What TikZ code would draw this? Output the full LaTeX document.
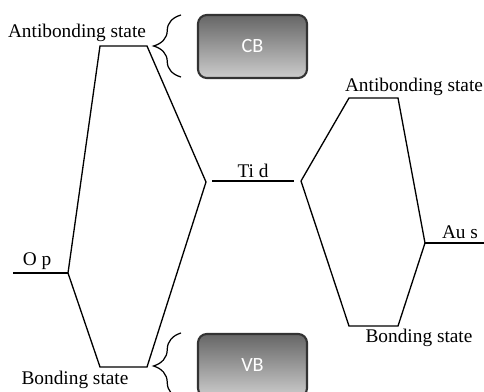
\documentclass[tikz,border=0pt]{standalone}
\usepackage{fontspec}
\setmainfont{Liberation Serif}
\newfontfamily\bandfont{Carlito}
\usetikzlibrary{decorations.pathreplacing}

\begin{document}
\begin{tikzpicture}[x=0.02cm, y=-0.02cm, line width=0.75pt,
    every node/.style={font=\fontsize{11}{13}\selectfont},
    bandbox/.style={draw=black!80, line width=1.2pt, rounded corners=5pt, top color=black!60, bottom color=black!20, minimum width=2.18cm, minimum height=1.26cm, text=white, font=\bandfont\fontsize{11.5}{13}\selectfont},
    bracket/.style={decorate, decoration={brace, amplitude=0.55cm}, line width=0.7pt}]
        \useasboundingbox (0,0) rectangle (484,392);

        % O p and its bonding / antibonding levels
        \coordinate (opend) at (13,273);
        \coordinate (op) at (68,273);
        \coordinate (lab1) at (100,46);
        \coordinate (lab2) at (147,46);
        \coordinate (lb1) at (100,367);
        \coordinate (lb2) at (147,367);
        \coordinate (ltip) at (206,182);

        % Ti d and Au s
        \coordinate (ti1) at (212,181);
        \coordinate (ti2) at (294,181);
        \coordinate (rtip) at (301,181);
        \coordinate (rab1) at (349,98);
        \coordinate (rab2) at (398,98);
        \coordinate (rb1) at (349,326);
        \coordinate (rb2) at (398,326);
        \coordinate (au) at (425,243);
        \coordinate (auend) at (484,243);

        \node(opl) at (37,261){O p};
        \node(tidl) at (253,171){Ti d};
        \node(ausl) at (460,232){Au s};
        \node(labl) at (77,33){Antibonding state};
        \node(lbl) at (75,380){Bonding state};
        \node(rabl) at (414,87){Antibonding state};
        \node(rbl) at (419,338){Bonding state};

        \node[bandbox](cb) at (252.5,46.5){CB};
        \node[bandbox](vb) at (252.5,365.5){VB};

        \draw (opend) -- (op);
        \draw (op) -- (lab1) -- (lab2) -- (ltip) -- (lb2) -- (lb1) -- (op);
        \draw (ti1) -- (ti2);
        \draw (rtip) -- (rab1) -- (rab2) -- (au) -- (rb2) -- (rb1) -- (rtip);
        \draw (au) -- (auend);

        \draw[bracket] (181,77) -- (181,15);
        \draw[bracket] (181,399) -- (181,333);
      \end{tikzpicture}
\end{document}
